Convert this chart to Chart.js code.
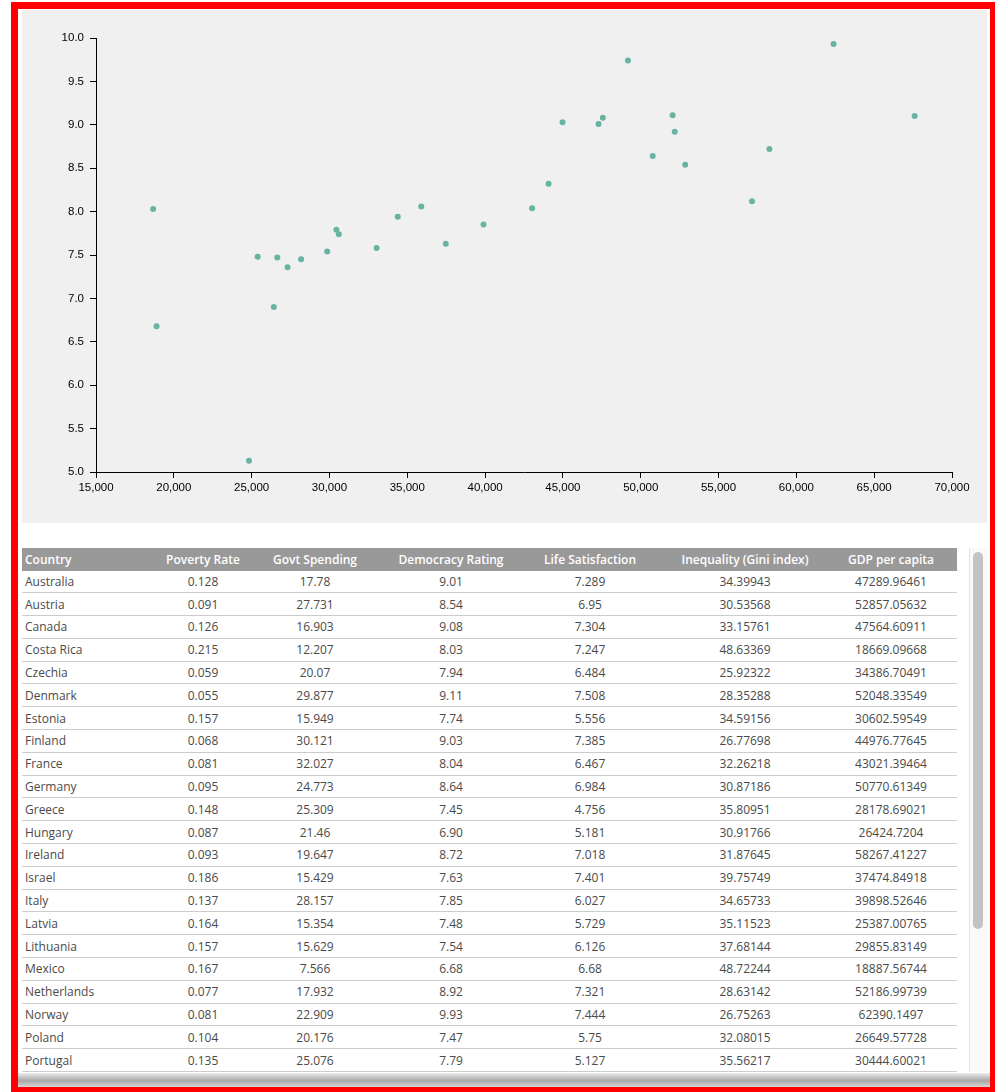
<!DOCTYPE html>
<html>
<head>
<meta charset="utf-8">
<title>GDP per capita vs Democracy Rating</title>
<script src="https://cdn.jsdelivr.net/npm/chart.js@4.4.1/dist/chart.umd.min.js"></script>
<style>
	html, body { margin: 0; padding: 0; background: #fff; }
	.frame { position: absolute; left: 11px; top: 2px; width: 986px; height: 1092px; border: 7px solid #ff0000; box-sizing: border-box; }
	.chart-box { position: absolute; left: 22px; top: 10px; width: 965px; height: 513px; background: #f0f0f0; }
	.table-box { position: absolute; left: 22px; top: 548px; width: 935px; height: 524px; overflow: hidden; }
	table { border-collapse: collapse; table-layout: fixed; width: 935px; font-family: "Open Sans", sans-serif; font-size: 12px; color: #4a4a4a; }
	th { background: #999; color: #fff; font-weight: 600; height: 22.5px; padding: 0 3px; text-align: center; white-space: nowrap; }
	td { height: 21.8px; padding: 0 3px; text-align: center; white-space: nowrap; border-bottom: 1px solid #ccc; }
	th:first-child, td:first-child { text-align: left; }
	.track { position: absolute; left: 969px; top: 548px; width: 18px; height: 524px; background: #fafafa; border-left: 1px solid #e4e4e4; box-sizing: border-box; }
	.thumb { position: absolute; left: 973px; top: 552px; width: 10px; height: 377px; border-radius: 5px; background: #c3c3c3; }
	.shadow { position: absolute; left: 18px; top: 1073px; width: 972px; height: 14px; background: linear-gradient(to bottom, #ececec, #a8a8a8 55%, #d6d6d6); }
</style>
</head>
<body>
<div class="frame"></div>
<div class="chart-box"><canvas id="scatterChart" width="965" height="513"></canvas></div>
<div class="table-box">
	<table id="dataTable">
		<colgroup>
			<col style="width:141px"><col style="width:80px"><col style="width:144px"><col style="width:128px"><col style="width:150px"><col style="width:160px"><col style="width:132px">
		</colgroup>
		<thead><tr id="headRow"></tr></thead>
		<tbody id="bodyRows"></tbody>
	</table>
</div>
<div class="track"></div>
<div class="thumb"></div>
<div class="shadow"></div>

<script>
var columns = ['Country', 'Poverty Rate', 'Govt Spending', 'Democracy Rating', 'Life Satisfaction', 'Inequality (Gini index)', 'GDP per capita'];

var countries = ['Australia', 'Austria', 'Canada', 'Costa Rica', 'Czechia', 'Denmark', 'Estonia', 'Finland', 'France', 'Germany', 'Greece', 'Hungary', 'Ireland', 'Israel', 'Italy', 'Latvia', 'Lithuania', 'Mexico', 'Netherlands', 'Norway', 'Poland', 'Portugal'];
var povertyRate = [0.128, 0.091, 0.126, 0.215, 0.059, 0.055, 0.157, 0.068, 0.081, 0.095, 0.148, 0.087, 0.093, 0.186, 0.137, 0.164, 0.157, 0.167, 0.077, 0.081, 0.104, 0.135];
var govtSpending = [17.78, 27.731, 16.903, 12.207, 20.07, 29.877, 15.949, 30.121, 32.027, 24.773, 25.309, 21.46, 19.647, 15.429, 28.157, 15.354, 15.629, 7.566, 17.932, 22.909, 20.176, 25.076];
var democracyRating = [9.01, 8.54, 9.08, 8.03, 7.94, 9.11, 7.74, 9.03, 8.04, 8.64, 7.45, 6.90, 8.72, 7.63, 7.85, 7.48, 7.54, 6.68, 8.92, 9.93, 7.47, 7.79];
var lifeSatisfaction = [7.289, 6.95, 7.304, 7.247, 6.484, 7.508, 5.556, 7.385, 6.467, 6.984, 4.756, 5.181, 7.018, 7.401, 6.027, 5.729, 6.126, 6.68, 7.321, 7.444, 5.75, 5.127];
var giniIndex = [34.39943, 30.53568, 33.15761, 48.63369, 25.92322, 28.35288, 34.59156, 26.77698, 32.26218, 30.87186, 35.80951, 30.91766, 31.87645, 39.75749, 34.65733, 35.11523, 37.68144, 48.72244, 28.63142, 26.75263, 32.08015, 35.56217];
var gdpPerCapita = [47289.96461, 52857.05632, 47564.60911, 18669.09668, 34386.70491, 52048.33549, 30602.59549, 44976.77645, 43021.39464, 50770.61349, 28178.69021, 26424.7204, 58267.41227, 37474.84918, 39898.52646, 25387.00765, 29855.83149, 18887.56744, 52186.99739, 62390.1497, 26649.57728, 30444.60021];

// rows further down the table (scrolled out of view)
var moreGdp = [24830, 27310, 33030, 35900, 44080, 49180, 57150, 67600];
var moreDemocracy = [5.13, 7.36, 7.58, 8.06, 8.32, 9.74, 8.12, 9.10];

var xTicks = [15000, 70000, 5000];
var yTicks = [5, 10, 0.5];

function buildTable() {
	var head = document.getElementById('headRow');
	columns.forEach(function(c) {
		var th = document.createElement('th');
		th.textContent = c;
		head.appendChild(th);
	});
	var body = document.getElementById('bodyRows');
	countries.forEach(function(name, i) {
		var cells = [name, povertyRate[i], govtSpending[i], democracyRating[i].toFixed(2), lifeSatisfaction[i], giniIndex[i], gdpPerCapita[i]];
		var tr = document.createElement('tr');
		cells.forEach(function(v) {
			var td = document.createElement('td');
			td.textContent = String(v);
			tr.appendChild(td);
		});
		body.appendChild(tr);
	});
}

function renderChart() {
	var points = [];
	gdpPerCapita.forEach(function(g, i) { points.push({ x: g, y: democracyRating[i] }); });
	moreGdp.forEach(function(g, i) { points.push({ x: g, y: moreDemocracy[i] }); });

	var tickFont = { family: '"Liberation Sans", Arial, sans-serif', size: 11.5 };

	new Chart(document.getElementById('scatterChart'), {
		type: 'scatter',
		data: {
			datasets: [{
				label: 'Democracy Rating',
				data: points,
				backgroundColor: '#69b3a2',
				borderWidth: 0,
				pointRadius: 3,
				pointHoverRadius: 3
			}]
		},
		options: {
			responsive: false,
			animation: false,
			layout: { padding: { top: 28, right: 35, left: 0, bottom: 0 } },
			plugins: { legend: { display: false }, tooltip: { enabled: false } },
			scales: {
				x: {
					type: 'linear',
					min: xTicks[0],
					max: xTicks[1],
					ticks: {
						stepSize: xTicks[2],
						autoSkip: false,
						maxRotation: 0,
						color: '#000',
						font: tickFont,
						padding: 3,
						callback: function(v) { return v.toLocaleString('en-US'); }
					},
					grid: { drawOnChartArea: false, tickLength: 6, color: '#000' },
					border: { color: '#000' },
					afterFit: function(s) { s.height = 51; }
				},
				y: {
					min: yTicks[0],
					max: yTicks[1],
					ticks: {
						stepSize: yTicks[2],
						autoSkip: false,
						color: '#000',
						font: tickFont,
						padding: 6,
						callback: function(v) { return v.toFixed(1); }
					},
					grid: { drawOnChartArea: false, tickLength: 6, color: '#000' },
					border: { color: '#000' },
					afterFit: function(s) { s.width = 74; }
				}
			}
		}
	});
}

buildTable();
renderChart();
</script>
</body>
</html>
